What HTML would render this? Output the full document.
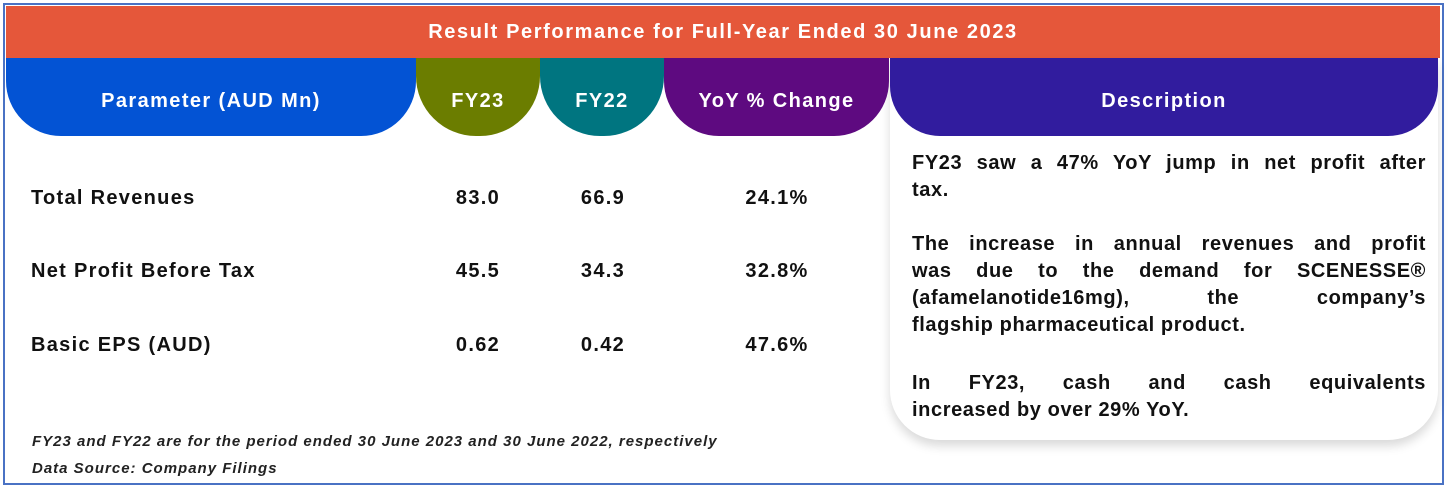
<!DOCTYPE html>
<html><head><meta charset="utf-8"><style>
*{margin:0;padding:0;box-sizing:border-box}
body{width:1448px;height:488px;background:#fff;font-family:"Liberation Sans",sans-serif;position:relative;overflow:hidden}
.frame{position:absolute;left:3px;top:3px;width:1441px;height:482px;border:2px solid #4a72c4}
.abs{position:absolute}
.title{left:6px;top:6px;width:1434px;height:52px;background:#e5573a;color:#fff;font-weight:bold;font-size:20px;letter-spacing:1.6px;text-align:center;line-height:52px}
.hd{top:58px;height:78px;padding-top:8px;color:#fff;font-weight:bold;font-size:20px;letter-spacing:1.4px;display:flex;align-items:center;justify-content:center}
.cell{font-weight:bold;font-size:20px;letter-spacing:1.3px;color:#111}
.v{text-align:center;width:120px}
.card{left:890px;top:58px;width:548px;height:382px;background:#fff;border-radius:0 0 50px 50px;box-shadow:0 6px 10px rgba(0,0,0,0.15)}
.desc{left:912px;top:150px;width:514px;font-weight:bold;font-size:20px;line-height:27px;color:#111;letter-spacing:0.6px}
.desc div{white-space:nowrap}
.desc .j{text-align:justify;text-align-last:justify;white-space:normal}
.gap{height:27px}
.foot{left:32px;font-style:italic;font-weight:bold;font-size:15px;letter-spacing:1px;color:#222}
</style></head><body>
<div class="frame"></div>
<div class="abs title">Result Performance for Full-Year Ended 30 June 2023</div>
<div class="abs card"></div>
<div class="abs hd" style="left:6px;width:410px;background:#0353d4;border-radius:0 0 55px 55px">Parameter (AUD Mn)</div>
<div class="abs hd" style="left:416px;width:124px;background:#6b7d00;border-radius:0 0 60px 60px">FY23</div>
<div class="abs hd" style="left:540px;width:124px;background:#007580;border-radius:0 0 60px 60px">FY22</div>
<div class="abs hd" style="left:664px;width:225px;background:#5e0a80;border-radius:0 0 55px 55px">YoY % Change</div>
<div class="abs hd" style="left:890px;width:548px;background:#311c9e;border-radius:0 0 50px 50px">Description</div>

<div class="abs cell" style="left:31px;top:187px">Total Revenues</div>
<div class="abs cell v" style="left:418px;top:187px">83.0</div>
<div class="abs cell v" style="left:543px;top:187px">66.9</div>
<div class="abs cell v" style="left:717px;top:187px">24.1%</div>

<div class="abs cell" style="left:31px;top:260px">Net Profit Before Tax</div>
<div class="abs cell v" style="left:418px;top:260px">45.5</div>
<div class="abs cell v" style="left:543px;top:260px">34.3</div>
<div class="abs cell v" style="left:717px;top:260px">32.8%</div>

<div class="abs cell" style="left:31px;top:334px">Basic EPS (AUD)</div>
<div class="abs cell v" style="left:418px;top:334px">0.62</div>
<div class="abs cell v" style="left:543px;top:334px">0.42</div>
<div class="abs cell v" style="left:717px;top:334px">47.6%</div>

<div class="abs desc">
<div class="j">FY23 saw a 47% YoY jump in net profit after</div>
<div>tax.</div>
<div class="gap"></div>
<div class="j">The increase in annual revenues and profit</div>
<div class="j">was due to the demand for SCENESSE®</div>
<div class="j">(afamelanotide16mg), the company’s</div>
<div>flagship pharmaceutical product.</div>
<div class="gap" style="height:31px"></div>
<div class="j">In FY23, cash and cash equivalents</div>
<div>increased by over 29% YoY.</div>
</div>

<div class="abs foot" style="top:433px">FY23 and FY22 are for the period ended 30 June 2023 and 30 June 2022, respectively</div>
<div class="abs foot" style="top:460px">Data Source: Company Filings</div>
</body></html>
